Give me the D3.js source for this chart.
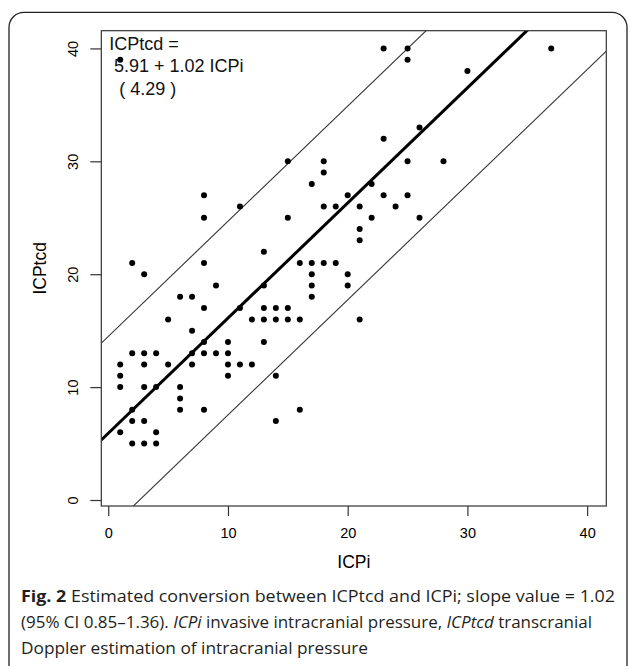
<!DOCTYPE html>
<html>
<head>
<meta charset="utf-8">
<script src="https://cdn.jsdelivr.net/npm/d3@7"></script>
<style>
  body { margin: 0; background: #fff; }
  svg { display: block; }
</style>
</head>
<body>
<div id="chart"></div>
<script>
// measured points, ICPi vs ICPtcd
var icpi = [1, 8, 8, 11, 15, 15, 17, 18, 18, 18, 19, 20, 21, 21, 21,
  23, 25, 25, 37, 30, 26, 23, 25, 28, 22, 23, 25, 24, 22, 26,
  19, 20, 20, 21,
  2, 3, 8, 13, 9, 13, 6, 7, 8, 11, 5, 7, 8, 13, 10,
  2, 3, 4, 7, 8, 9, 10,
  1, 3, 5, 7, 10, 11, 12,
  1, 10, 14,
  1, 3, 4, 6,
  6,
  6, 8, 2, 16,
  2, 3, 14,
  1, 4,
  2, 3, 4,
  16, 17, 18, 17, 17, 17,
  13, 14, 15,
  12, 13, 14, 15, 16];
var icptcd = [39, 27, 25, 26, 30, 25, 28, 30, 29, 26, 26, 27, 26, 24, 23,
  40, 40, 39, 40, 38, 33, 32, 30, 30, 28, 27, 27, 26, 25, 25,
  21, 20, 19, 16,
  21, 20, 21, 22, 19, 19, 18, 18, 17, 17, 16, 15, 14, 14, 14,
  13, 13, 13, 13, 13, 13, 13,
  12, 12, 12, 12, 12, 12, 12,
  11, 11, 11,
  10, 10, 10, 10,
  9,
  8, 8, 8, 8,
  7, 7, 7,
  6, 6,
  5, 5, 5,
  21, 21, 21, 20, 19, 18,
  17, 17, 17,
  16, 16, 16, 16, 16];

var xTicks = [0, 10, 20, 30, 40];
var yTicks = [0, 10, 20, 30, 40];

// regression: ICPtcd = 5.91 + 1.02 ICPi, residual sd 4.29
var intercept = 5.91, slope = 1.02, sd = 4.29;
var bandOffsets = [-2 * sd, 2 * sd];

var width = 630, height = 666;
var box = { left: 101.3, right: 606.3, top: 30.7, bottom: 506 };

var svg = d3.select('#chart').append('svg')
  .attr('width', width)
  .attr('height', height);

// figure frame
svg.append('rect')
  .attr('x', 9).attr('y', 12.3)
  .attr('width', 618).attr('height', 670)
  .attr('rx', 15).attr('ry', 15)
  .attr('fill', 'none')
  .attr('stroke', '#222')
  .attr('stroke-width', 1.3);

var x = d3.scaleLinear().domain([-0.58, 41.6]).range([box.left, box.right]);
var y = d3.scaleLinear().domain([-0.53, 41.57]).range([box.bottom, box.top]);

svg.append('clipPath').attr('id', 'clip')
  .append('rect')
  .attr('x', box.left).attr('y', box.top)
  .attr('width', box.right - box.left)
  .attr('height', box.bottom - box.top);

var plot = svg.append('g').attr('clip-path', 'url(#clip)');

var xEnds = x.domain();
function fitLine(off) {
  return xEnds.map(function (v) { return [x(v), y(intercept + off + slope * v)]; });
}

// band lines
bandOffsets.forEach(function (off) {
  plot.append('path')
    .attr('d', d3.line()(fitLine(off)))
    .attr('stroke', '#333')
    .attr('stroke-width', 1.1)
    .attr('fill', 'none');
});

// fitted line
plot.append('path')
  .attr('d', d3.line()(fitLine(0)))
  .attr('stroke', '#000')
  .attr('stroke-width', 3)
  .attr('fill', 'none');

// points
plot.selectAll('circle')
  .data(icpi.map(function (v, i) { return [v, icptcd[i]]; }))
  .enter().append('circle')
  .attr('cx', function (d) { return x(d[0]); })
  .attr('cy', function (d) { return y(d[1]); })
  .attr('r', 3)
  .attr('fill', '#000');

// box
svg.append('rect')
  .attr('x', box.left).attr('y', box.top)
  .attr('width', box.right - box.left)
  .attr('height', box.bottom - box.top)
  .attr('fill', 'none')
  .attr('stroke', '#333')
  .attr('stroke-width', 1.2);

var font = 'Liberation Sans, Arial, Helvetica, sans-serif';

// axes
var gx = svg.append('g')
  .attr('transform', 'translate(0,' + box.bottom + ')')
  .call(d3.axisBottom(x).tickValues(xTicks).tickSize(10).tickPadding(12));
gx.select('.domain').remove();
gx.selectAll('line').attr('stroke', '#333').attr('stroke-width', 1.2);
gx.selectAll('text')
  .attr('font-family', font).attr('font-size', 14.5).attr('fill', '#000');

var gy = svg.append('g')
  .attr('transform', 'translate(' + box.left + ',0)')
  .call(d3.axisLeft(y).tickValues(yTicks).tickSize(11));
gy.select('.domain').remove();
gy.selectAll('line').attr('stroke', '#333').attr('stroke-width', 1.2);
gy.selectAll('text')
  .attr('x', 0).attr('dy', '0.35em')
  .attr('transform', 'translate(-28,0) rotate(-90)')
  .attr('text-anchor', 'middle')
  .attr('font-family', font).attr('font-size', 14.5).attr('fill', '#000');

// axis titles
svg.append('text')
  .attr('x', (box.left + box.right) / 2).attr('y', 568)
  .attr('text-anchor', 'middle')
  .attr('font-family', font).attr('font-size', 17.5).attr('fill', '#000')
  .text('ICPi');

svg.append('text')
  .attr('transform', 'translate(46,' + (box.top + box.bottom) / 2 + ') rotate(-90)')
  .attr('text-anchor', 'middle')
  .attr('font-family', font).attr('font-size', 17.5).attr('fill', '#000')
  .text('ICPtcd');

// equation
var eqLines = [['ICPtcd =', 109.3, 49.5], ['5.91 + 1.02 ICPi', 114, 72], ['( 4.29 )', 119.3, 95]];
eqLines.forEach(function (l) {
  svg.append('text')
    .attr('x', l[1]).attr('y', l[2])
    .attr('font-family', font).attr('font-size', 18).attr('fill', '#111')
    .text(l[0]);
});

// caption
var capFont = 'Open Sans, Noto Sans, sans-serif';
var cap1 = svg.append('text')
  .attr('x', 21).attr('y', 602)
  .attr('font-family', capFont).attr('font-size', 16).attr('fill', '#231f20')
  .attr('textLength', 594).attr('lengthAdjust', 'spacingAndGlyphs');
cap1.append('tspan').attr('font-weight', 'bold').text('Fig. 2');
cap1.append('tspan').text(' Estimated conversion between ICPtcd and ICPi; slope value = 1.02');

var cap2 = svg.append('text')
  .attr('x', 21).attr('y', 628)
  .attr('font-family', capFont).attr('font-size', 16).attr('fill', '#231f20')
  .attr('textLength', 571).attr('lengthAdjust', 'spacingAndGlyphs');
cap2.append('tspan').text('(95% CI 0.85\u20131.36). ');
cap2.append('tspan').attr('font-style', 'italic').text('ICPi');
cap2.append('tspan').text(' invasive intracranial pressure, ');
cap2.append('tspan').attr('font-style', 'italic').text('ICPtcd');
cap2.append('tspan').text(' transcranial');

svg.append('text')
  .attr('x', 21).attr('y', 654)
  .attr('font-family', capFont).attr('font-size', 16).attr('fill', '#231f20')
  .attr('textLength', 347).attr('lengthAdjust', 'spacingAndGlyphs')
  .text('Doppler estimation of intracranial pressure');
</script>
</body>
</html>
